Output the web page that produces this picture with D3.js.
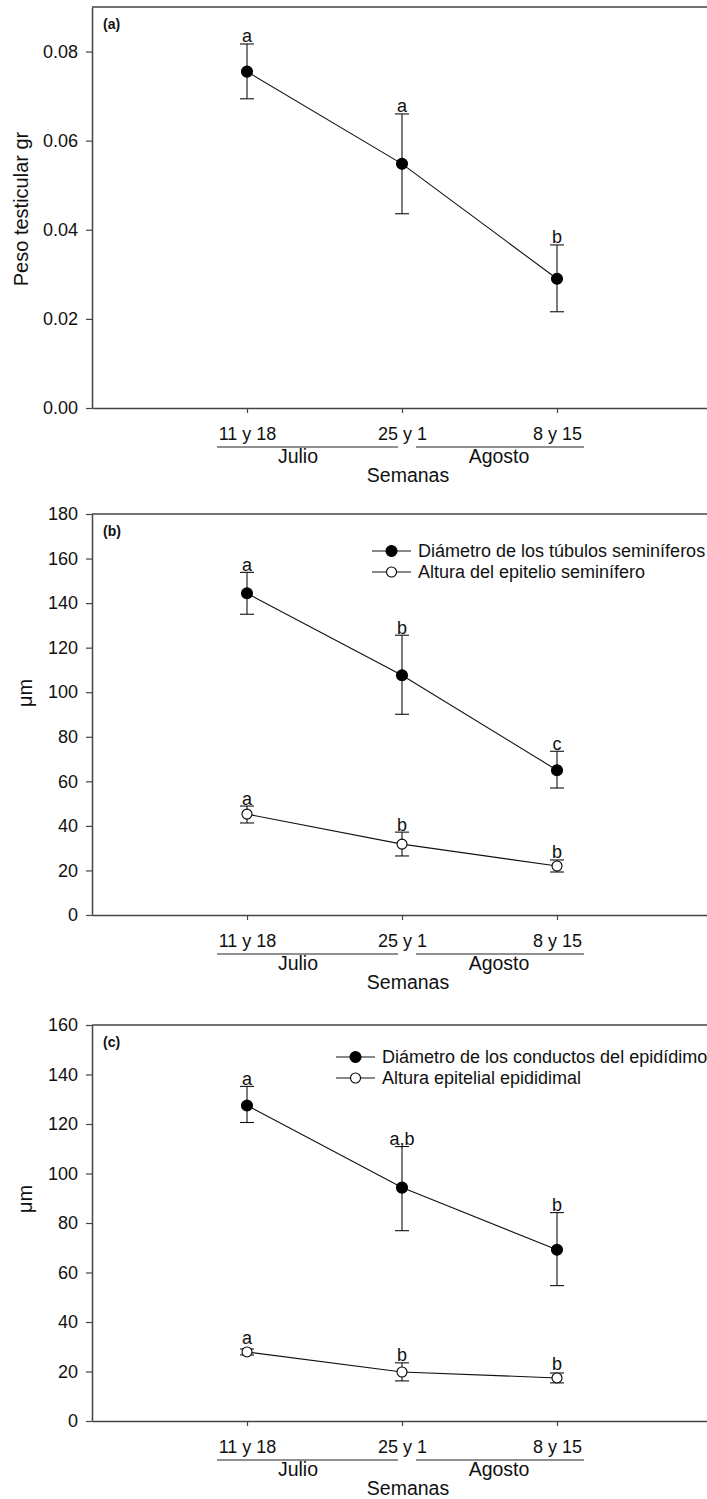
<!DOCTYPE html>
<html><head><meta charset="utf-8">
<script src="https://cdn.jsdelivr.net/npm/d3@7"></script>
<style>
body{margin:0;background:#fff}
svg{display:block}
text{font-family:"Liberation Sans",Arial,sans-serif;fill:#111}
</style>
</head><body>
<svg id="chart" width="707" height="1499"></svg>
<script>
// ---- shared categories ----
const weeks = ["11 y 18", "25 y 1", "8 y 15"];
const months = ["Julio", "Agosto"];
const xTitle = "Semanas";

// ---- panel (a) ----
const pesoMean = [0.0755, 0.0548, 0.0290];
const pesoHi   = [0.0817, 0.0660, 0.0366];
const pesoLo   = [0.0694, 0.0436, 0.0216];
const pesoLetters = ["a", "a", "b"];
const aTicks = [0, 0.02, 0.04, 0.06, 0.08];

// ---- panel (b) ----
const tubMean = [144.4, 107.6, 65.0];
const tubHi   = [153.8, 125.6, 73.5];
const tubLo   = [135.0, 90.1, 57.0];
const tubLetters = ["a", "b", "c"];
const semEpiMean = [45.3, 31.8, 22.0];
const semEpiHi   = [48.9, 37.2, 24.7];
const semEpiLo   = [41.3, 26.5, 19.3];
const semEpiLetters = ["a", "b", "b"];
const bTicks = [0, 20, 40, 60, 80, 100, 120, 140, 160, 180];
const bLegend = ["Diámetro de los túbulos seminíferos", "Altura del epitelio seminífero"];

// ---- panel (c) ----
const conMean = [127.5, 94.3, 69.2];
const conHi   = [135.2, 110.9, 84.2];
const conLo   = [120.6, 76.9, 54.7];
const conLetters = ["a", "a,b", "b"];
const epiMean = [27.9, 19.8, 17.4];
const epiHi   = [29.1, 23.5, 19.4];
const epiLo   = [26.7, 16.2, 15.4];
const epiLetters = ["a", "b", "b"];
const cTicks = [0, 20, 40, 60, 80, 100, 120, 140, 160];
const cLegend = ["Diámetro de los conductos del epidídimo", "Altura epitelial epididimal"];

const svg = d3.select("#chart");
const FS = 18;      // tick labels, letters, legend
const FT = 19.5;    // month labels, x title
const FY = 20;      // y titles
const AXC = "#444";
const x = d3.scaleLinear().domain([0, 4]).range([92, 712]);
const xIdx = [1, 2, 3];

function series(mean, hi, lo, letters, filled) {
  return { mean, hi, lo, letters, filled };
}

function drawPanel(p) {
  const g = svg.append("g");
  const y = d3.scaleLinear().domain([0, p.ymax]).range([p.bottom, p.top]);

  // frame (top edge)
  g.append("line").attr("x1", x(0)).attr("x2", x(4)).attr("y1", p.top).attr("y2", p.top)
    .attr("stroke", AXC).attr("stroke-width", 1.5);

  // y axis
  const ya = g.append("g").attr("transform", `translate(${x(0)},0)`)
    .call(d3.axisLeft(y).tickValues(p.ticks).tickFormat(p.fmt).tickSize(6).tickSizeOuter(0).tickPadding(8));
  ya.select(".domain").attr("stroke", AXC).attr("stroke-width", 1.5);
  ya.selectAll(".tick line").attr("stroke", AXC).attr("stroke-width", 1.2);
  ya.selectAll(".tick text").attr("font-size", FS).attr("fill", "#111")
    .style("font-family", '"Liberation Sans",Arial,sans-serif');

  // x axis
  const xa = g.append("g").attr("transform", `translate(0,${p.bottom})`)
    .call(d3.axisBottom(x).tickValues(xIdx).tickFormat((d, i) => weeks[i]).tickSize(5).tickSizeOuter(0).tickPadding(14));
  xa.select(".domain").attr("stroke", AXC).attr("stroke-width", 1.5);
  xa.selectAll(".tick line").attr("stroke", AXC).attr("stroke-width", 1.2);
  xa.selectAll(".tick text").attr("font-size", FS).attr("fill", "#111")
    .style("font-family", '"Liberation Sans",Arial,sans-serif');

  // month underlines and labels
  const uy = p.bottom + 39;
  g.append("line").attr("x1", x(1) - 30).attr("x2", x(2) - 4).attr("y1", uy).attr("y2", uy)
    .attr("stroke", "#222").attr("stroke-width", 1.2);
  g.append("line").attr("x1", x(2) + 14).attr("x2", x(3) + 27).attr("y1", uy).attr("y2", uy)
    .attr("stroke", "#222").attr("stroke-width", 1.2);
  g.append("text").attr("x", x(1) + 51).attr("y", p.bottom + 55).attr("text-anchor", "middle")
    .attr("font-size", FT).text(months[0]);
  g.append("text").attr("x", x(3) - 58).attr("y", p.bottom + 55).attr("text-anchor", "middle")
    .attr("font-size", FT).text(months[1]);
  g.append("text").attr("x", x(2) + 6).attr("y", p.bottom + 74).attr("text-anchor", "middle")
    .attr("font-size", FT).text(xTitle);

  // y title
  g.append("text").attr("transform", `translate(${p.ytx},${p.yty}) rotate(-90)`)
    .attr("text-anchor", "middle").attr("font-size", FY).text(p.ytitle);

  // panel label
  g.append("text").attr("x", 103).attr("y", p.top + 22).attr("font-size", 14)
    .attr("font-weight", "bold").text(p.label);

  const line = d3.line().x((d, i) => x(xIdx[i])).y(d => y(d));

  p.series.forEach(s => {
    g.append("path").datum(s.mean).attr("d", line).attr("fill", "none")
      .attr("stroke", "#111").attr("stroke-width", 1.1);
    const eb = g.append("g");
    s.mean.forEach((m, i) => {
      const cx = x(xIdx[i]);
      eb.append("line").attr("x1", cx).attr("x2", cx).attr("y1", y(s.lo[i])).attr("y2", y(s.hi[i]))
        .attr("stroke", "#111").attr("stroke-width", 1.1);
      [s.lo[i], s.hi[i]].forEach(v => {
        eb.append("line").attr("x1", cx - 7).attr("x2", cx + 7).attr("y1", y(v)).attr("y2", y(v))
          .attr("stroke", "#111").attr("stroke-width", 1.1);
      });
      g.append("text").attr("x", cx).attr("y", Math.min(y(s.hi[i]), y(m) - 6) - 1.5)
        .attr("text-anchor", "middle").attr("font-size", FS).text(s.letters[i]);
    });
    g.selectAll(null).data(s.mean).enter().append("circle")
      .attr("cx", (d, i) => x(xIdx[i])).attr("cy", d => y(d))
      .attr("r", s.filled ? 5.5 : 5)
      .attr("fill", s.filled ? "#000" : "#fff")
      .attr("stroke", "#000").attr("stroke-width", 1.1);
  });

  if (p.legend) {
    p.legend.forEach((t, i) => {
      const ly = p.legY + i * 21;
      const lx = p.legX;
      g.append("line").attr("x1", lx).attr("x2", lx + 39).attr("y1", ly).attr("y2", ly)
        .attr("stroke", "#111").attr("stroke-width", 1.1);
      g.append("circle").attr("cx", lx + 19.5).attr("cy", ly).attr("r", i === 0 ? 5.5 : 5)
        .attr("fill", i === 0 ? "#000" : "#fff").attr("stroke", "#000").attr("stroke-width", 1.1);
      g.append("text").attr("x", lx + 46).attr("y", ly + 6).attr("font-size", FS).text(t);
    });
  }
}

drawPanel({
  label: "(a)", top: 7, bottom: 408, ymax: 0.09, ticks: aTicks, fmt: d3.format(".2f"),
  ytitle: "Peso testicular gr", ytx: 28, yty: 209,
  series: [series(pesoMean, pesoHi, pesoLo, pesoLetters, true)]
});
drawPanel({
  label: "(b)", top: 514, bottom: 915, ymax: 180, ticks: bTicks, fmt: d3.format("d"),
  ytitle: "μm", ytx: 32, yty: 693,
  series: [series(tubMean, tubHi, tubLo, tubLetters, true),
           series(semEpiMean, semEpiHi, semEpiLo, semEpiLetters, false)],
  legend: bLegend, legX: 372, legY: 551
});
drawPanel({
  label: "(c)", top: 1025, bottom: 1421, ymax: 160, ticks: cTicks, fmt: d3.format("d"),
  ytitle: "μm", ytx: 32, yty: 1199,
  series: [series(conMean, conHi, conLo, conLetters, true),
           series(epiMean, epiHi, epiLo, epiLetters, false)],
  legend: cLegend, legX: 336, legY: 1057
});
</script>
</body></html>
